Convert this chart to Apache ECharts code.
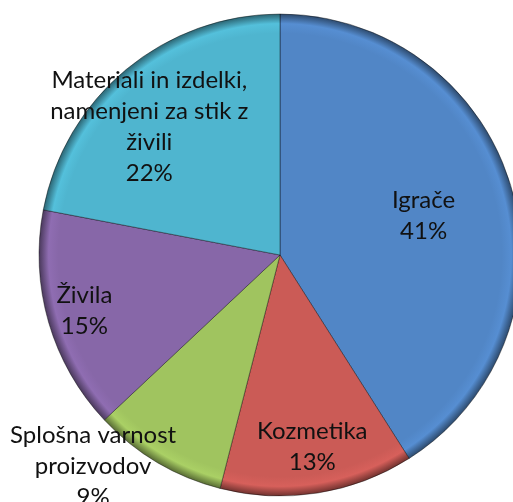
<!DOCTYPE html>
<html>
<head>
<meta charset="utf-8">
<script src="https://cdn.jsdelivr.net/npm/echarts@6/dist/echarts.min.js"></script>
<style>
  html, body { margin: 0; padding: 0; background: #fff; }
  #main { width: 513px; height: 502px; }
</style>
</head>
<body>
<div id="main"></div>
<script>
// kategorije in deleži (v %)
const categories = [
  "Igrače",
  "Kozmetika",
  "Splošna varnost\nproizvodov",
  "Živila",
  "Materiali in izdelki,\nnamenjeni za stik z\nživili"
];
const shares = [41, 13, 9, 15, 22];
const colors = ["#5186C6", "#CB5B56", "#A0C45F", "#8767A8", "#4FB5CF"];
// premik oznak od privzetega mesta (inside)
const labelShiftX = [25, 13, -124, -77, -52];
const labelShiftY = [-5, 70, 105, 21, -33];

const cx = 280, cy = 255, r = 241;

function shade(hex, f) {
  const n = parseInt(hex.slice(1), 16);
  let rr = (n >> 16) & 255, gg = (n >> 8) & 255, bb = n & 255;
  rr = Math.min(255, Math.round(rr * f));
  gg = Math.min(255, Math.round(gg * f));
  bb = Math.min(255, Math.round(bb * f));
  return "rgb(" + rr + "," + gg + "," + bb + ")";
}

const myChart = echarts.init(document.getElementById("main"));
myChart.setOption({
  animation: false,
  series: [
    {
      type: "pie",
      center: [cx, cy],
      radius: [0, r],
      startAngle: 90,
      clockwise: true,
      data: categories.map((name, i) => ({
        name: name,
        value: shares[i],
        itemStyle: {
          color: {
            type: "radial",
            x: cx, y: cy, r: r,
            global: true,
            colorStops: [
              { offset: 0, color: colors[i] },
              { offset: 0.92, color: colors[i] },
              { offset: 0.96, color: shade(colors[i], 1.06) },
              { offset: 1, color: shade(colors[i], 0.55) }
            ]
          },
          borderColor: "rgba(0,0,0,0.4)",
          borderWidth: 1
        }
      })),
      label: {
        show: true,
        position: "inside",
        formatter: (p) => p.name + "\n" + p.value + "%",
        fontFamily: "Lato",
        fontSize: 24,
        lineHeight: 31,
        color: "#111",
        align: "center"
      },
      labelLine: { show: false },
      labelLayout: (params) => ({
        dx: labelShiftX[params.dataIndex],
        dy: labelShiftY[params.dataIndex]
      }),
      emphasis: { disabled: true }
    }
  ]
});
</script>
</body>
</html>
